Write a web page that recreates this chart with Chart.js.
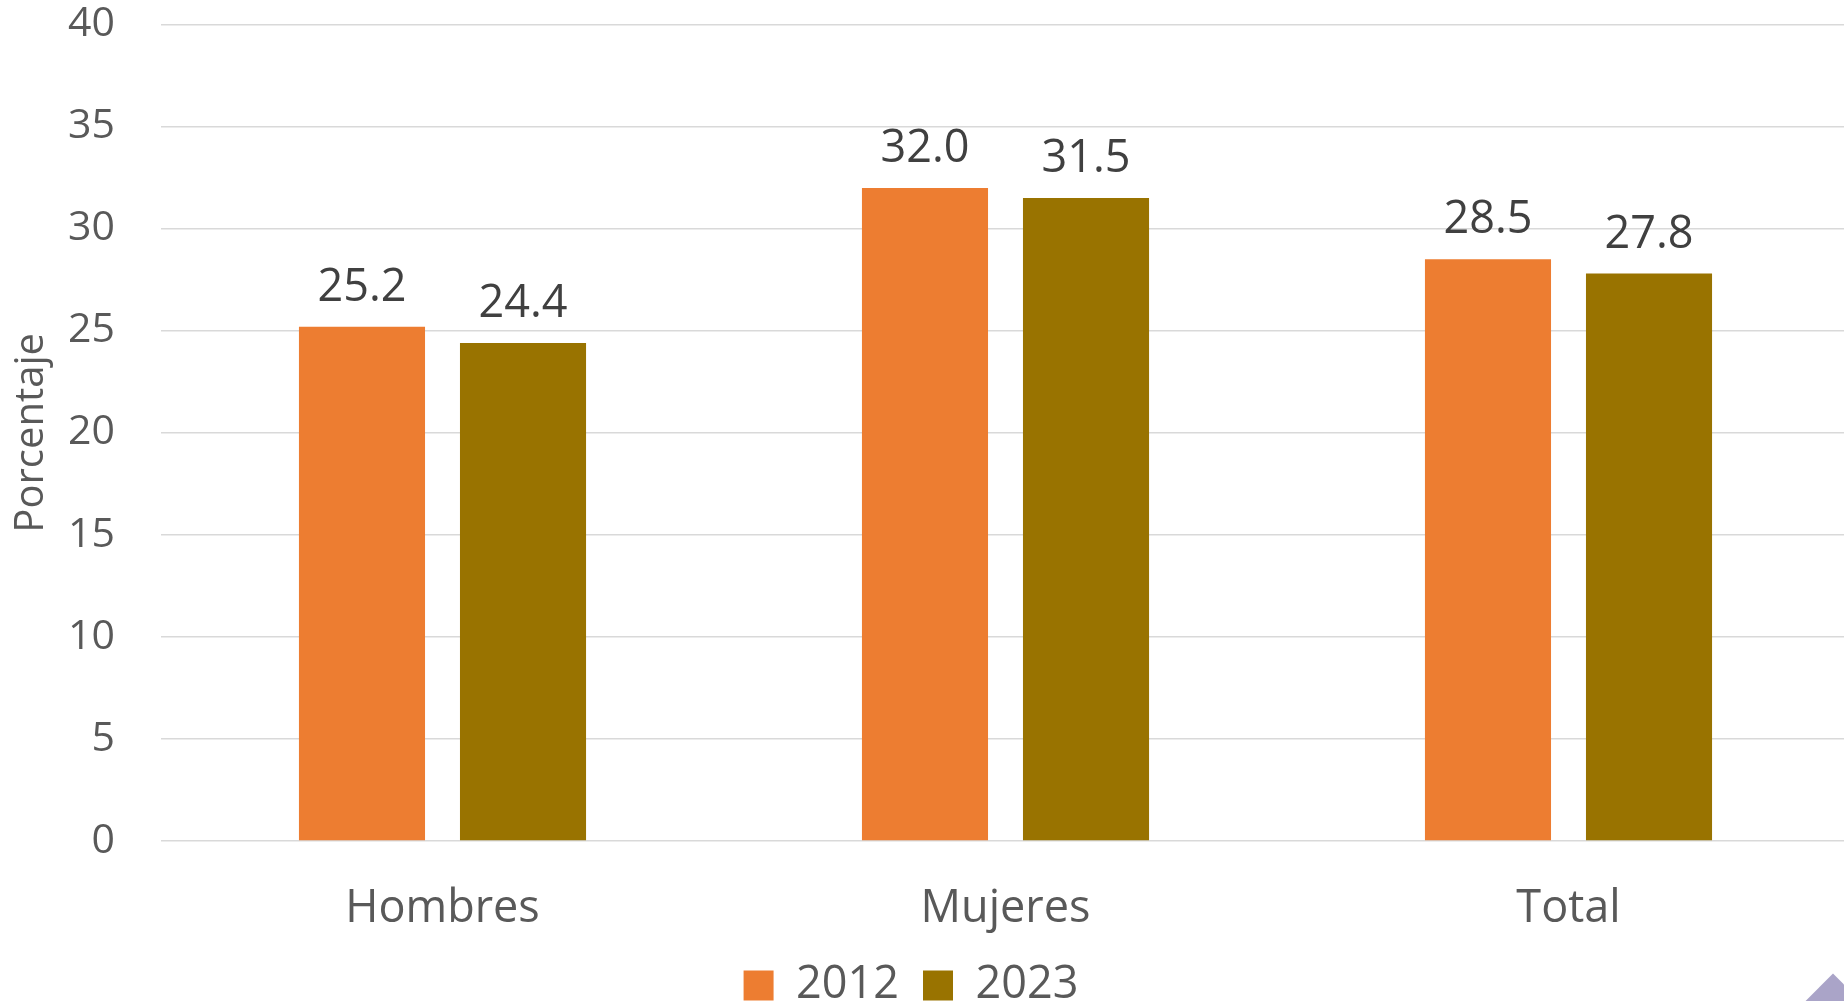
<!DOCTYPE html>
<html>
<head>
<meta charset="utf-8">
<script src="https://cdn.jsdelivr.net/npm/chart.js@4"></script>
<style>
  html, body { margin: 0; padding: 0; background: #fff; overflow: hidden; }
  #wrap { position: relative; width: 1844px; height: 1001px; overflow: hidden; }
  #chart { position: absolute; left: 0; top: 0; }
  #deco {
    position: absolute; left: 1803px; top: 986px; width: 60px; height: 60px;
    background: #aaa4c8; transform: rotate(45deg);
  }
</style>
</head>
<body>
<div id="wrap">
  <canvas id="chart" width="1850" height="1018"></canvas>
  <div id="deco"></div>
</div>
<script>
const categories = ["Hombres", "Mujeres", "Total"];
const years = ["2012", "2023"];
const values2012 = [25.2, 32.0, 28.5];
const values2023 = [24.4, 31.5, 27.8];
const yTicks = [0, 5, 10, 15, 20, 25, 30, 35, 40];

const colors = {
  orange: "#ed7d31",
  olive: "#997300",
  text: "#595959",
  label: "#404040",
  grid: "#d9d9d9",
};

const fontFamily = "'Open Sans', sans-serif";

// value labels above each bar
const barLabels = {
  id: "barLabels",
  afterDatasetsDraw(chart) {
    const ctx = chart.ctx;
    ctx.save();
    ctx.font = `45px ${fontFamily}`;
    ctx.fillStyle = colors.label;
    ctx.textAlign = "center";
    ctx.textBaseline = "alphabetic";
    chart.data.datasets.forEach((ds, i) => {
      chart.getDatasetMeta(i).data.forEach((bar, j) => {
        ctx.fillText(ds.data[j].toFixed(1), bar.x, bar.y - 26);
      });
    });
    ctx.restore();
  },
};

new Chart(document.getElementById("chart"), {
  type: "bar",
  data: {
    labels: categories,
    datasets: [
      { label: years[0], data: values2012, backgroundColor: colors.orange },
      { label: years[1], data: values2023, backgroundColor: colors.olive },
    ],
  },
  options: {
    responsive: false,
    animation: false,
    categoryPercentage: 0.572,
    barPercentage: 0.783,
    // negative left padding only shifts the centred legend a little to the left
    layout: { padding: { left: -28, right: 0, top: 0, bottom: 0 } },
    plugins: {
      tooltip: { enabled: false },
      legend: {
        position: "bottom",
        labels: {
          color: colors.text,
          font: { family: fontFamily, size: 45 },
          boxWidth: 30,
          boxHeight: 30,
          padding: 24,
        },
      },
    },
    scales: {
      x: {
        afterFit(scale) { scale.height = 98; },
        grid: { display: false, drawTicks: false },
        border: { display: false },
        ticks: {
          color: colors.text,
          font: { family: fontFamily, size: 45 },
          padding: 41,
        },
      },
      y: {
        min: 0,
        max: 40,
        afterFit(scale) { scale.width = 189; },
        afterBuildTicks(scale) { scale.ticks = yTicks.map((v) => ({ value: v })); },
        grid: { color: colors.grid, lineWidth: 1.5, tickLength: 46, tickColor: "transparent" },
        border: { display: false },
        ticks: {
          color: colors.text,
          font: { family: fontFamily, size: 41 },
          padding: 0,
        },
        title: {
          display: true,
          text: "Porcentaje",
          color: colors.text,
          font: { family: fontFamily, size: 40 },
          padding: { top: 36, bottom: 0 },
        },
      },
    },
  },
  plugins: [barLabels],
});
</script>
</body>
</html>
